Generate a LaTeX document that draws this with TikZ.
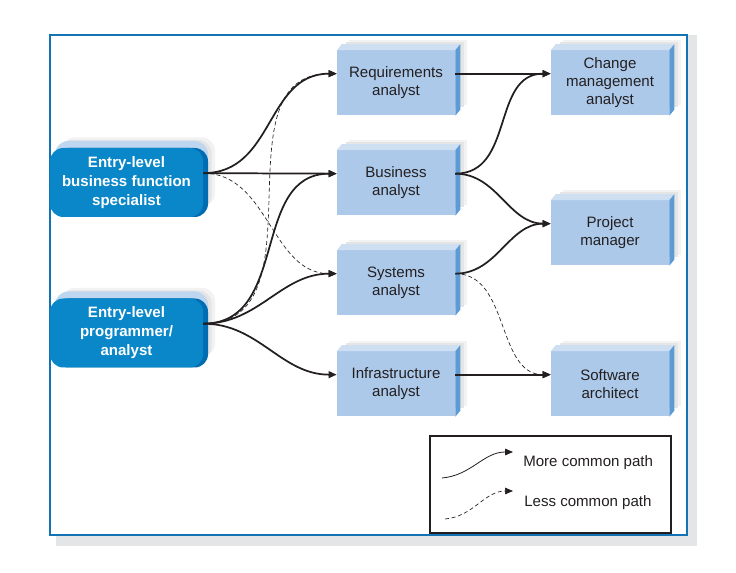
\documentclass[tikz,border=0pt]{standalone}
\usepackage{fontspec}
\setmainfont{Liberation Sans}
\usetikzlibrary{positioning,arrows.meta,shadows}
\definecolor{FrameBlue}{RGB}{20,115,180}
\definecolor{PaperGray}{RGB}{228,229,231}
\definecolor{InkGray}{RGB}{35,31,32}
\definecolor{BoxFront}{RGB}{172,201,234}
\definecolor{BoxTop}{RGB}{206,223,242}
\definecolor{BoxSide}{RGB}{92,155,213}
\definecolor{EntryFront}{RGB}{10,135,200}
\definecolor{EntryTop}{RGB}{190,214,239}
\definecolor{EntrySide}{RGB}{0,108,178}

\begin{document}
\begin{tikzpicture}[x=0.75pt,y=-0.75pt,
soft/.style={general shadow={shadow xshift=9pt,shadow yshift=8pt,fill=black!5},
general shadow={shadow xshift=6.5pt,shadow yshift=6pt,fill=black!10}},
job/.style={rectangle,soft,fill=BoxFront,minimum width=88.5pt,minimum height=48.75pt,
inner sep=0pt,align=center,text=InkGray,font=\fontsize{11.3}{13.5}\selectfont},
entry/.style={rectangle,rounded corners=10pt,soft,fill=EntryFront,minimum width=114.75pt,
minimum height=51.75pt,inner sep=0pt,align=center,text=white,
font=\fontsize{11.3}{14.25}\selectfont\bfseries,
general shadow={shadow xshift=3.75pt,shadow yshift=5.25pt,fill=EntryTop},
general shadow={shadow xshift=3.75pt,shadow yshift=0pt,fill=EntrySide}},
common/.style={-{Triangle[length=6pt,width=5pt]},line width=1.3pt,draw=InkGray},
rare/.style={-{Triangle[length=6pt,width=5pt]},line width=0.5pt,draw=InkGray,
dash pattern=on 3pt off 2pt},
keytext/.style={anchor=west,inner sep=0pt,text=InkGray,font=\fontsize{11.3}{13.5}\selectfont}
]
\useasboundingbox (0,0) rectangle (736,573);
% frame
\fill[PaperGray] (56,35) rectangle (697,546);
\draw[FrameBlue,line width=1pt,fill=white] (50,35) rectangle (687,535);

% entry positions
\node[entry] (spec) at (126.5,182.5) {Entry-level\\business function\\specialist};
\node[entry] (prog) at (126.5,333) {Entry-level\\programmer/\\analyst};

% jobs
\node[job] (req) at (396,83) {Requirements\\analyst};
\node[job] (bus) at (396,183) {Business\\analyst};
\node[job] (sys) at (396,283) {Systems\\analyst};
\node[job] (infra) at (396,384) {Infrastructure\\analyst};
\node[job] (chg) at (610,83) {Change\\management\\analyst};
\node[job] (pm) at (610,233) {Project\\manager};
\node[job] (arch) at (610,384) {Software\\architect};
\foreach \n in {req,bus,sys,infra,chg,pm,arch}{
  \fill[BoxTop] (\n.north west) -- ++(5,-6) -- ([shift={(5,-6)}]\n.north east) -- (\n.north east) -- cycle;
  \fill[BoxSide] (\n.north east) -- ++(5,-6) -- ([shift={(5,-6)}]\n.south east) -- (\n.south east) -- cycle;
}

% paths
\draw[common] ([yshift=7pt]spec.east) to[out=0,in=180,looseness=1.1] ([yshift=7pt]req.west);
\draw[common] ([yshift=7pt]spec.east) -- ([yshift=7pt]bus.west);
\draw[rare] ([yshift=7pt]spec.east) to[out=0,in=180] ([yshift=7pt]sys.west);
\draw[rare] ([yshift=7pt]prog.east) to[out=0,in=180,looseness=1.1] ([yshift=7pt]req.west);
\draw[common] ([yshift=7pt]prog.east) to[out=0,in=180,looseness=1.1] ([yshift=7pt]bus.west);
\draw[common] ([yshift=7pt]prog.east) to[out=0,in=180] ([yshift=7pt]sys.west);
\draw[common] ([yshift=7pt]prog.east) to[out=0,in=180] ([yshift=7pt]infra.west);
\draw[common] ([yshift=7pt]req.east) -- ([yshift=7pt]chg.west);
\draw[common] ([yshift=7pt]bus.east) to[out=0,in=180,looseness=1.1] ([yshift=7pt]chg.west);
\draw[common] ([yshift=7pt]bus.east) to[out=0,in=180] ([yshift=7pt]pm.west);
\draw[common] ([yshift=7pt]sys.east) to[out=0,in=180] ([yshift=7pt]pm.west);
\draw[rare] ([yshift=7pt]sys.east) to[out=0,in=180] ([yshift=7pt]arch.west);
\draw[common] ([yshift=7pt]infra.east) -- ([yshift=7pt]arch.west);

% key
\node[draw=InkGray,line width=0.8pt,minimum width=180.75pt,minimum height=72.75pt,inner sep=0pt] (key) at (550.5,484.5) {};
\coordinate (m0) at (442,478);
\coordinate (m1) at (513,452);
\coordinate (l0) at (445,519);
\coordinate (l1) at (513,491);
\draw[common,line width=0.6pt] (m0) to[out=5,in=180] (m1);
\draw[rare] (l0) to[out=5,in=180] (l1);
\node[keytext] (more) at (523,463) {More common path};
\node[keytext] (less) at (524,503) {Less common path};
\end{tikzpicture}
\end{document}
